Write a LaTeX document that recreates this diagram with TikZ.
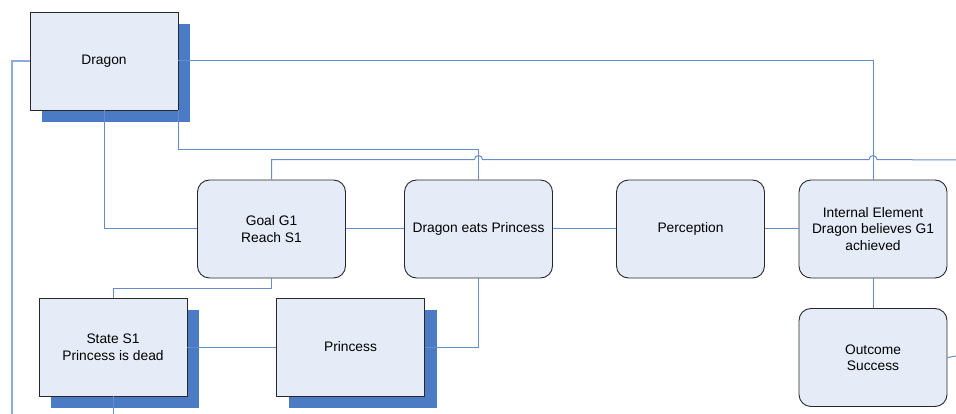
\documentclass[tikz,border=0pt]{standalone}
\usepackage{fontspec}
\setmainfont{Liberation Sans}
\usetikzlibrary{calc,shadows}
\definecolor{boxfill}{RGB}{230,236,247}
\definecolor{shadowblue}{RGB}{74,123,196}
\definecolor{wireblue}{RGB}{100,140,206}
\definecolor{edgeblue}{RGB}{140,170,220}
\definecolor{boxline}{RGB}{40,40,40}

\begin{document}
\begin{tikzpicture}[x=1pt,y=1pt,
  base/.style={draw=boxline, line width=0.9pt, fill=boxfill,
    minimum width=148pt, minimum height=98pt, align=center,
    font=\fontsize{13.8}{16.5}\selectfont, inner sep=0pt},
  roundbox/.style={base, rounded corners=12pt},
  flatbox/.style={base, general shadow={fill=shadowblue,
    shadow xshift=12pt, shadow yshift=-12pt}},
  wire/.style={draw=wireblue, line width=1pt},
  outerwire/.style={draw=edgeblue, line width=1.3pt},
  ]
\useasboundingbox (0,0) rectangle (956,-414);

% boxes
\node[flatbox]  (dragon)   at (104,-61)   {Dragon};
\node[roundbox] (goal)     at (271.5,-229) {Goal G1\\Reach S1};
\node[roundbox] (dep)      at (478.5,-229) {Dragon eats Princess};
\node[roundbox] (perc)     at (690.5,-229) {Perception};
\node[roundbox] (internal) at (873,-229)   {Internal Element\\Dragon believes G1\\achieved};
\node[roundbox] (outcome)  at (873,-357.5) {Outcome\\Success};
\node[flatbox]  (state)    at (113,-347)   {State S1\\Princess is dead};
\node[flatbox]  (princess) at (350.5,-347) {Princess};

% loose ends at the picture border
\coordinate (leftend)  at (12,-414);
\coordinate (topright) at (956,-160);
\coordinate (outright) at (956,-356);
\coordinate (botmid)   at (113,-414);

% connectors
\draw[outerwire] (dragon.west) -| (leftend);
\draw[wire] (dragon.east) -| (internal.north);
\draw[wire] (dragon.south) |- (goal.west);
\draw[wire] (dragon.south east) -- ++(0,-39) -| (dep.north);
\draw[wire] (goal.north) -- ++(0,20)
  -- ($(dep.north)+(-4,20)$) arc (180:0:4)
  -- ($(internal.north)+(-4,20)$) arc (180:0:4)
  -- (topright);
\draw[wire] (goal.east) -- (dep.west);
\draw[wire] (dep.east) -- (perc.west);
\draw[wire] (perc.east) -- (internal.west);
\draw[wire] (internal.south) -- (outcome.north);
\draw[wire] (outcome.east) -- (outright);
\draw[wire] (goal.south) -- ++(0,-10) -| (state.north);
\draw[wire] (state.south) -- (botmid);
\draw[wire] (state.east) -- (princess.west);
\draw[wire] (princess.east) -| (dep.south);
\end{tikzpicture}
\end{document}
